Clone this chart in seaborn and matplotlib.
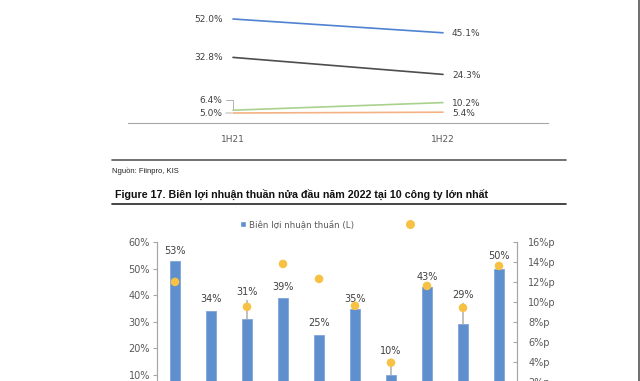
import matplotlib
matplotlib.use("Agg")
import matplotlib.pyplot as plt
import seaborn as sns
import pandas as pd
import numpy as np
from matplotlib.lines import Line2D
from matplotlib.patches import Patch

# --- dados ---
periods = ["1H21", "1H22"]
series_names = ["S1", "S2", "S3", "S4"]
values_1h21 = [52.0, 32.8, 6.4, 5.0]
values_1h22 = [45.1, 24.3, 10.2, 5.4]

companies = ["C1", "C2", "C3", "C4", "C5", "C6", "C7", "C8", "C9", "C10"]
net_margin = [53, 34, 31, 39, 25, 35, 10, 43, 29, 50]
margin_change = [12.0, 1.0, 9.5, 13.8, 12.3, 9.6, 3.9, 11.6, 9.4, 13.6]

source_text = "Nguồn: Fiinpro, KIS"
title_text = "Figure 17. Biên lợi nhuận thuần nửa đầu năm 2022 tại 10 công ty lớn nhất"
legend_label = "Biên lợi nhuận thuần (L)"

# estilo
line_colors = ["#4f82d0", "#4d4d4d", "#a9d18e", "#f4b183"]
bar_color = "#5f8fcc"
dot_color = "#f7c244"
text_color = "#404040"
axis_color = "#a6a6a6"

sns.set_style("white")
plt.rcParams["font.family"] = ["DejaVu Sans"]

W, H = 640, 381
fig = plt.figure(figsize=(W / 100, H / 100), dpi=100)


def fx(px):
    return px / W


def fy(py):
    return 1 - py / H


# --- 1. gráfico de linhas (parte de cima) ---
ax1 = fig.add_axes([fx(128), fy(123), 420 / W, 120 / H])
df_lines = pd.DataFrame({
    "period": periods * len(series_names),
    "value": [v for pair in zip(values_1h21, values_1h22) for v in pair],
    "series": [s for s in series_names for _ in periods],
})
sns.lineplot(data=df_lines, x="period", y="value", hue="series",
             palette=line_colors, linewidth=1.2, legend=False, ax=ax1)
ax1.set_xlim(-0.5, 1.5)
ax1.set_ylim(0, 60)
ax1.set_xlabel("")
ax1.set_ylabel("")
ax1.set_yticks([])
ax1.set_xticks([0, 1])
ax1.set_xticklabels(periods)
ax1.set_xticks([-0.5, 0.5, 1.5], minor=True)
ax1.tick_params(axis="x", which="major", length=0, pad=9, labelsize=6.5,
                labelcolor="#595959")
ax1.tick_params(axis="x", which="minor", length=3, direction="in",
                color=axis_color, width=0.8)
for side in ["left", "right", "top"]:
    ax1.spines[side].set_visible(False)
ax1.spines["bottom"].set_color(axis_color)
ax1.spines["bottom"].set_linewidth(0.8)

left_offsets = [0, 0, 7, 0]
for i, v in enumerate(values_1h21):
    kw = {}
    if left_offsets[i]:
        kw["arrowprops"] = dict(arrowstyle="-", color=axis_color, lw=0.6,
                                shrinkA=0, shrinkB=1,
                                connectionstyle="angle,angleA=0,angleB=90,rad=0")
    elif i == 3:
        kw["arrowprops"] = dict(arrowstyle="-", color=axis_color, lw=0.6,
                                shrinkA=0, shrinkB=1)
    ax1.annotate(f"{v:.1f}%", xy=(0, v), xytext=(-7.5, left_offsets[i]),
                 textcoords="offset points", ha="right", va="center",
                 fontsize=6.5, color=text_color, **kw)
for i, v in enumerate(values_1h22):
    ax1.annotate(f"{v:.1f}%", xy=(1, v), xytext=(6.5, -0.8),
                 textcoords="offset points", ha="left", va="center",
                 fontsize=6.5, color=text_color)

# --- textos e linhas da página ---
fig.add_artist(Line2D([fx(112), fx(566)], [fy(160.5)] * 2, color="#595959", lw=1.2))
fig.add_artist(Line2D([fx(112), fx(566)], [fy(204)] * 2, color="#262626", lw=1.2))
fig.add_artist(Line2D([fx(639.3)] * 2, [0, 1], color="#555555", lw=1.2))
fig.text(fx(112), fy(171), source_text, fontsize=5.5, va="center",
         family=["Liberation Sans", "DejaVu Sans"], color="#222222")
fig.text(fx(115), fy(194), title_text, fontsize=7.7, fontweight="bold", va="center",
         family=["Liberation Sans", "DejaVu Sans"], color="#111111")

# --- 2. gráfico de barras (parte de baixo) ---
ax = fig.add_axes([fx(157), fy(401.6), 360 / W, 159.6 / H])
sns.barplot(x=companies, y=net_margin, color=bar_color, saturation=1,
            width=0.3, edgecolor="#86abdb", linewidth=0.7, ax=ax)
ax.set_xlim(-0.5, 9.5)
ax.set_ylim(0, 60)
ax.set_yticks(range(0, 61, 10))
ax.set_yticklabels([f"{t}%" for t in range(0, 61, 10)])
ax.set_xticks([])
ax.tick_params(axis="y", length=3, direction="out", color=axis_color, width=0.8,
               labelsize=7, labelcolor="#595959", pad=2)

label_offsets = [7.2, 9, 19.4, 7.9, 8.6, 7.2, 17.3, 7.2, 21.2, 9.1]
leaders = [2, 6, 8, 9]
for i, v in enumerate(net_margin):
    kw = {}
    if i in leaders:
        kw["arrowprops"] = dict(arrowstyle="-", color=axis_color, lw=1.0,
                                shrinkA=0, shrinkB=0)
    ax.annotate(f"{v}%", xy=(i, v), xytext=(0, label_offsets[i]),
                textcoords="offset points", ha="center", va="center",
                fontsize=7, color=text_color, **kw)

ax2 = ax.twinx()
sns.scatterplot(x=np.arange(len(companies)), y=margin_change, color=dot_color,
                s=38, edgecolor="none", zorder=3, ax=ax2)
ax2.set_ylim(0, 16)
ax2.set_yticks(range(0, 17, 2))
ax2.set_yticklabels([f"{t}%p" for t in range(0, 17, 2)])
ax2.tick_params(axis="y", length=3, direction="in", color=axis_color, width=0.8,
                labelsize=7, labelcolor="#595959", pad=8)

for a in (ax, ax2):
    a.spines["top"].set_visible(False)
    a.spines["bottom"].set_visible(False)
    a.spines["left"].set_color(axis_color)
    a.spines["right"].set_color(axis_color)
    a.set_ylabel("")

ax2.legend(handles=[Patch(facecolor=bar_color),
                    Line2D([], [], marker="o", ls="", color=dot_color, markersize=5.5)],
           labels=[legend_label, ""], ncol=2, frameon=False, fontsize=6.3,
           handlelength=0.7, handleheight=0.7, handletextpad=0.3, columnspacing=6.1,
           loc="center left", bbox_to_anchor=(fx(232), fy(224)),
           bbox_transform=fig.transFigure, labelcolor="#595959")

fig.savefig("out.png", dpi=100)
